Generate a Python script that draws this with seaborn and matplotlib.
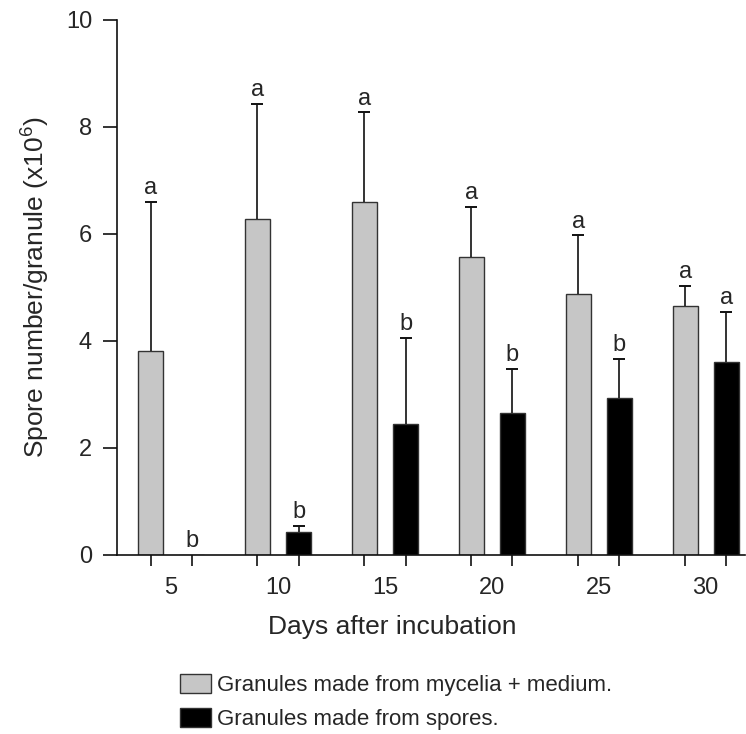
import numpy as np
import pandas as pd
import matplotlib.pyplot as plt
import seaborn as sns

# values (x10^6 spores per granule)
days = [5, 10, 15, 20, 25, 30]
mycelia = [3.81, 6.28, 6.60, 5.56, 4.87, 4.65]
mycelia_err = [2.79, 2.15, 1.67, 0.94, 1.10, 0.38]
spores = [0.0, 0.42, 2.45, 2.66, 2.94, 3.61]
spores_err = [0.0, 0.12, 1.61, 0.81, 0.73, 0.93]
mycelia_letters = ['a', 'a', 'a', 'a', 'a', 'a']
spores_letters = ['b', 'b', 'b', 'b', 'b', 'a']
groups = ['Granules made from mycelia + medium.', 'Granules made from spores.']

df = pd.DataFrame({
    'day': days * 2,
    'value': mycelia + spores,
    'group': [groups[0]] * 6 + [groups[1]] * 6,
})

sns.set_style('ticks')
plt.rcParams['font.family'] = ['Liberation Sans', 'DejaVu Sans']
plt.rcParams['mathtext.fontset'] = 'custom'
plt.rcParams['mathtext.rm'] = 'Liberation Sans'
plt.rcParams['mathtext.it'] = 'Liberation Sans'

fig = plt.figure(figsize=(7.46, 7.34), dpi=100)
ax = fig.add_axes([0.157, 0.244, 0.842, 0.729])

sns.barplot(data=df, x='day', y='value', hue='group', ax=ax,
            palette=['#c6c6c6', '#000000'], width=0.77, gap=0.39,
            errorbar=None, edgecolor='#333333', linewidth=1.0)

# upper-only error bars + significance letters
centers = []
for cont, errs, letters in zip(ax.containers, [mycelia_err, spores_err],
                               [mycelia_letters, spores_letters]):
    for bar, e, let in zip(cont, errs, letters):
        cx = bar.get_x() + bar.get_width() / 2
        h = bar.get_height()
        centers.append(cx)
        if e > 0:
            ax.vlines(cx, h, h + e, color='#111111', lw=1.2)
            ax.errorbar(cx, h + e, yerr=0, fmt='none', ecolor='#111111',
                        elinewidth=0, capsize=4, capthick=1.2)
        ax.annotate(let, (cx, h + e), xytext=(0, 2), textcoords='offset points',
                    ha='center', va='bottom', fontsize=17)

ax.set_ylim(0, 10)
ax.set_xlim(-0.505, 5.37)
ax.set_yticks([0, 2, 4, 6, 8, 10])
ax.set_xticks(range(6), [str(d) for d in days])
ax.set_xticks(centers, minor=True)
ax.tick_params(axis='x', which='major', length=0, pad=16, labelsize=17)
ax.tick_params(axis='x', which='minor', length=8, width=1.2, color='#111111')
ax.tick_params(axis='y', length=10, width=1.2, pad=8, labelsize=17, color='#111111')
for s in ['top', 'right']:
    ax.spines[s].set_visible(False)
for s in ['left', 'bottom']:
    ax.spines[s].set_linewidth(1.2)
    ax.spines[s].set_color('#111111')

ax.set_xlabel('Days after incubation', fontsize=19)
ax.xaxis.set_label_coords((393 - 117) / 629, (555 - 615) / 535)
ax.set_ylabel('Spore number/granule (x10$^6$)', fontsize=19, labelpad=10)

sns.move_legend(ax, 'upper left', bbox_to_anchor=(169 / 746, 1 - 663 / 734),
                bbox_transform=fig.transFigure, frameon=False, title=None,
                fontsize=16, handlelength=1.4, handleheight=0.9,
                handletextpad=0.25, labelspacing=0.55, borderpad=0)

fig.savefig('out.png', dpi=100)
